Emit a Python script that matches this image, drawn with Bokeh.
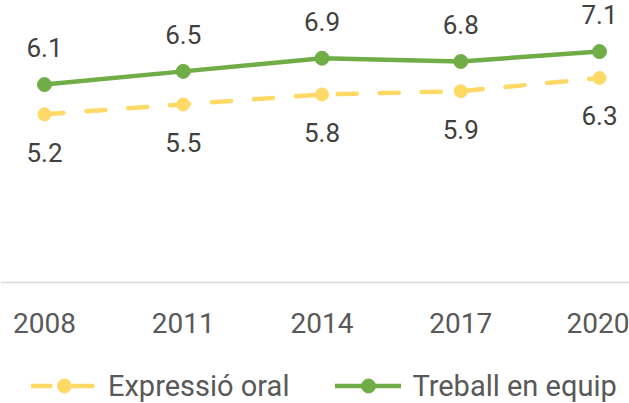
from bokeh.plotting import figure
from bokeh.models import Range1d, FixedTicker, Legend, LegendItem, ColumnDataSource
from bokeh.core.properties import value
from bokeh.embed import file_html
from bokeh.resources import INLINE

years = ["2008", "2011", "2014", "2017", "2020"]
expressio_oral = [5.2, 5.5, 5.8, 5.9, 6.3]
treball_en_equip = [6.1, 6.5, 6.9, 6.8, 7.1]
series_names = ["Expressió oral", "Treball en equip"]

FONT = "Roboto"
YELLOW = "#FFD966"
GREEN = "#70AD47"

x = list(range(len(years)))

p = figure(width=629, height=403, output_backend="svg", toolbar_location=None,
           x_range=Range1d(-0.317, 4.216), y_range=Range1d(-3.564, 8.648),
           y_axis_location=None, min_border=0)
p.outline_line_color = None
p.xgrid.visible = False
p.ygrid.visible = False
p.background_fill_color = "white"
p.border_fill_color = "white"

src_o = ColumnDataSource(dict(x=x, y=expressio_oral, lbl=[f"{v:.1f}" for v in expressio_oral]))
src_t = ColumnDataSource(dict(x=x, y=treball_en_equip, lbl=[f"{v:.1f}" for v in treball_en_equip]))

r1 = p.line('x', 'y', source=src_o, line_color=YELLOW, line_width=4.5,
            line_dash="19 23", line_cap="round", line_join="round")
r1m = p.scatter('x', 'y', source=src_o, size=13, fill_color=YELLOW, line_color=YELLOW)
r2 = p.line('x', 'y', source=src_t, line_color=GREEN, line_width=4.5, line_cap="round", line_join="round")
r2m = p.scatter('x', 'y', source=src_t, size=14, fill_color=GREEN, line_color=GREEN)

p.text('x', 'y', text='lbl', source=src_o, y_offset=38, text_align="center", text_baseline="middle",
       text_font=value(FONT), text_font_size="26px", text_color="#404040")
p.text('x', 'y', text='lbl', source=src_t, y_offset=-37, text_align="center", text_baseline="middle",
       text_font=value(FONT), text_font_size="26px", text_color="#404040")

ax = p.xaxis[0]
ax.fixed_location = 0.1
ax.ticker = FixedTicker(ticks=x)
ax.major_label_overrides = {i: yr for i, yr in zip(x, years)}
ax.axis_line_color = "#D9D9D9"
ax.axis_line_width = 1.5
ax.major_tick_line_color = None
ax.minor_tick_line_color = None
ax.major_tick_out = 0
ax.major_tick_in = 0
ax.major_label_standoff = 30
ax.major_label_text_font = FONT
ax.major_label_text_font_size = "28px"
ax.major_label_text_color = "#595959"

legend = Legend(items=[LegendItem(label=series_names[0], renderers=[r1, r1m]),
                       LegendItem(label=series_names[1], renderers=[r2, r2m])],
                orientation="horizontal", location=(31, 0),
                glyph_width=66, glyph_height=35, label_standoff=11, spacing=46,
                padding=0, margin=0, border_line_color=None, background_fill_alpha=0,
                label_text_font=FONT, label_text_font_size="29px", label_text_color="#595959")
p.add_layout(legend, "center")

open("out.html", "w").write(file_html(p, INLINE))
